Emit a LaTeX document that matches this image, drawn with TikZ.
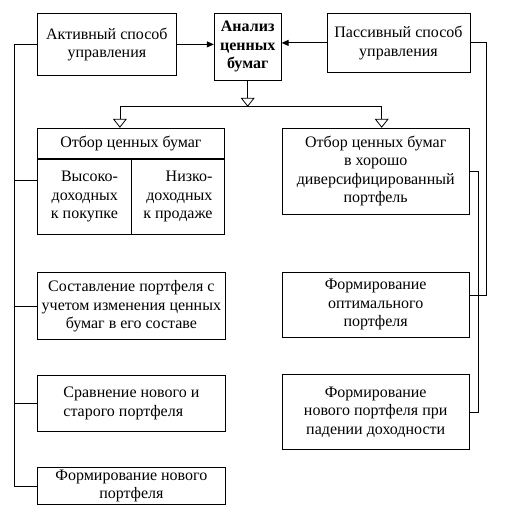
\documentclass[tikz,border=0pt]{standalone}
\usepackage{fontspec}
\newfontfamily\timesfont{Liberation Serif}
\usetikzlibrary{positioning,arrows.meta}

\begin{document}
\begin{tikzpicture}[box/.style = {draw, line width=0.8pt, inner sep=1pt, align=center, font=\timesfont\fontsize{16}{18.5}\selectfont},
    wire/.style = {line width=0.8pt},
    tip/.style = {wire, -{Triangle[length=7pt,width=6pt]}},
    fork/.style = {wire, -{Triangle[open,length=9pt,width=14pt]}}]
        \useasboundingbox (0,0) rectangle (529pt,-532pt);

        \node[box,minimum width=139pt,minimum height=62pt,anchor=north west] (act) at (37pt,-13pt) {Активный способ\\управления};
        \node[box,minimum width=67pt,minimum height=67pt,right=37pt of act.north east,anchor=north west] (ana) {\textbf{Анализ}\\\textbf{ценных}\\\textbf{бумаг}};
        \node[box,minimum width=143pt,minimum height=59pt,right=45pt of ana.north east,anchor=north west] (pas) {Пассивный способ\\управления};

        \node[box,minimum width=187pt,minimum height=30pt,below=52pt of act.south west,anchor=north west] (sel) {Отбор ценных бумаг};
        \node[box,minimum width=94pt,minimum height=75pt,below=0pt of sel.south west,anchor=north west,align=right] (hi) {Высоко-\\доходных\\к покупке};
        \node[box,minimum width=93pt,minimum height=75pt,below=0pt of sel.south east,anchor=north east,align=right] (lo) {Низко-\\доходных\\к продаже};
        \node[box,minimum width=188pt,minimum height=67pt,below=38pt of hi.south west,anchor=north west] (comp) {Составление портфеля с\\учетом изменения ценных\\бумаг в его составе};
        \node[box,minimum width=188pt,minimum height=56pt,below=35pt of comp.south west,anchor=north west,align=left] (cmpr) {Сравнение нового и\\старого портфеля};
        \node[box,minimum width=188pt,minimum height=37pt,below=35pt of cmpr.south west,anchor=north west] (newp) {Формирование нового\\портфеля};

        \node[box,minimum width=187pt,minimum height=86pt,right=57pt of sel.north east,anchor=north west] (div) {Отбор ценных бумаг\\в хорошо\\диверсифицированный\\портфель};
        \node[box,minimum width=187pt,minimum height=65pt,below=57pt of div.south west,anchor=north west] (opt) {Формирование\\оптимального\\портфеля};
        \node[box,minimum width=187pt,minimum height=75pt,below=37pt of opt.south west,anchor=north west] (drop) {Формирование\\нового портфеля при\\падении доходности};

        \coordinate[below=26pt of ana.south] (split);
        \coordinate[left=23pt of newp.west] (lcorner);
        \coordinate[right=17pt of opt.east,yshift=9pt] (rcorner);

        \draw[tip] (act.east) -- (act.east -| ana.west);
        \draw[tip] (pas.west) -- (pas.west -| ana.east);
        \draw[fork] (ana) -- (split);
        \draw[fork] (split) -| ([xshift=-11pt]sel.north);
        \draw[fork] (split) -| ([xshift=6pt]div.north);

        \draw[wire] (act.west) -| (lcorner) -- (newp.west);
        \draw[wire] ([yshift=16pt]hi.west) -- ([yshift=16pt]hi.west -| lcorner);
        \draw[wire] (comp.west) -- (comp.west -| lcorner);
        \draw[wire] (cmpr.west) -- (cmpr.west -| lcorner);

        \draw[wire] (pas.east) -| (rcorner) -- ([yshift=9pt]opt.east);
        \draw[wire] (div.east) -- ++(9pt,0) |- (drop.east);
      \end{tikzpicture}
\end{document}
